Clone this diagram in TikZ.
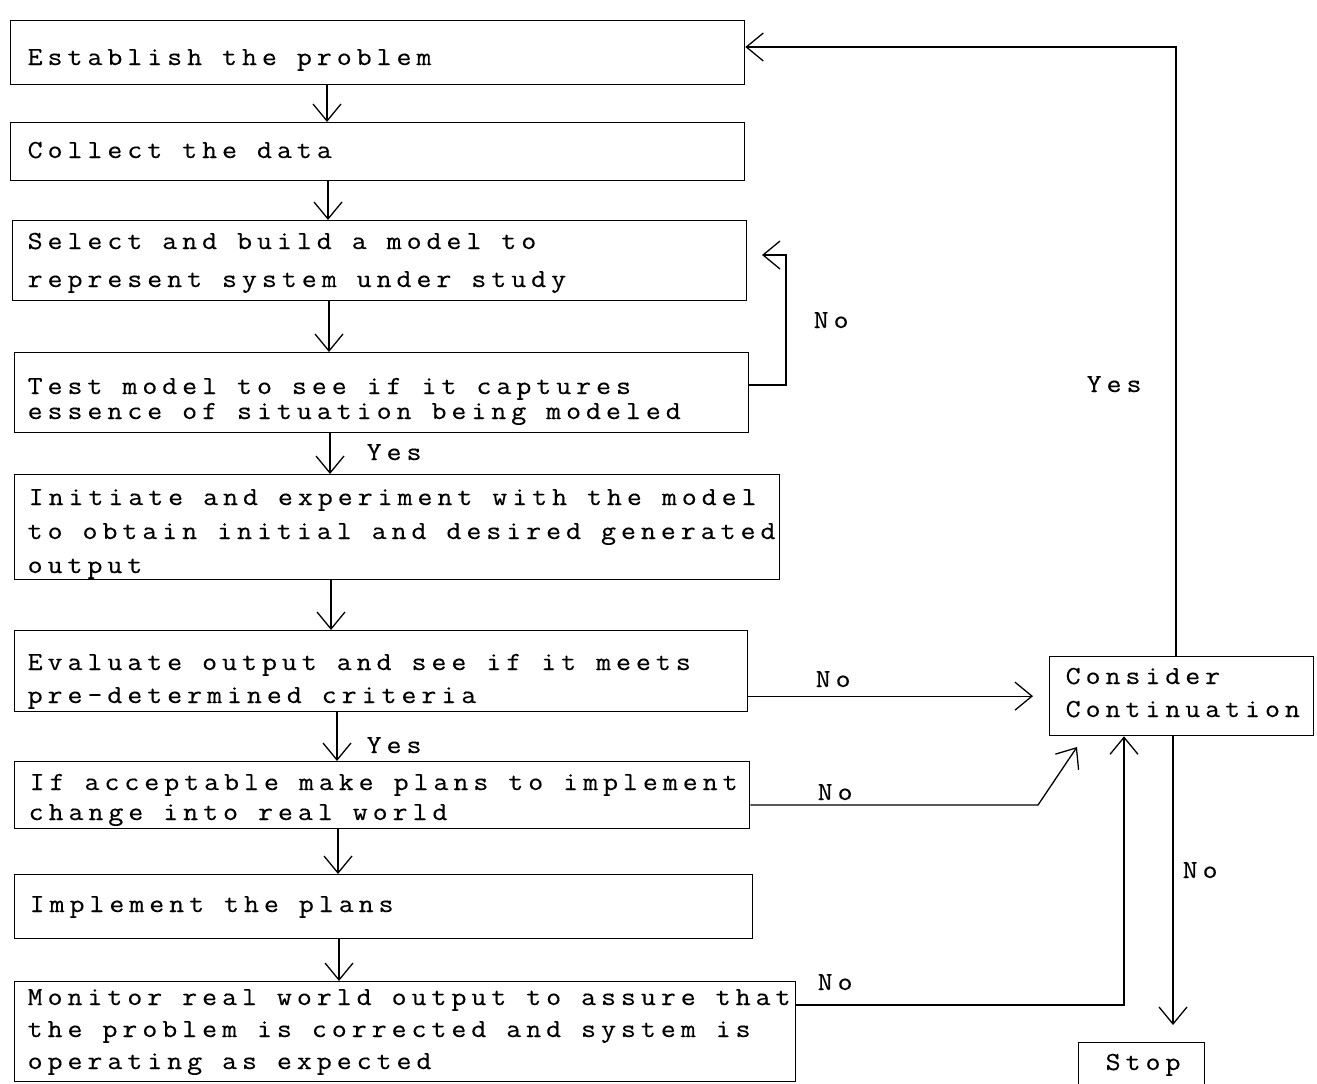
\documentclass[tikz,border=0pt]{standalone}
\usepackage{fontspec}
\newfontfamily\tw{Latin Modern Mono}[FakeStretch=1.12, FakeBold=0.3, LetterSpace=19]
\usetikzlibrary{arrows.meta}
\begin{document}
\begin{tikzpicture}[x=1pt,y=-1pt,line width=1.3pt,
  box/.style={draw, rectangle, inner sep=0pt, anchor=north west},
  txt/.style={anchor=base west, inner sep=0pt, font=\tw\fontsize{26}{32}\selectfont},
  arr/.style={-{Straight Barb[length=17pt,width=28pt,line width=1.3pt]}}]
\useasboundingbox (0,0) rectangle (1317,1084);
\clip (0,0) rectangle (1317,1084);

% process boxes
\node[box, minimum width=734pt, minimum height=64pt]  (b1) at (10,20) {};
\node[box, minimum width=734pt, minimum height=58pt]  (b2) at (10,122) {};
\node[box, minimum width=734pt, minimum height=80pt]  (b3) at (12,220) {};
\node[box, minimum width=734pt, minimum height=80pt]  (b4) at (14,352) {};
\node[box, minimum width=765pt, minimum height=105pt] (b5) at (14,474) {};
\node[box, minimum width=733pt, minimum height=81pt]  (b6) at (14,630) {};
\node[box, minimum width=735pt, minimum height=67pt]  (b7) at (14,761) {};
\node[box, minimum width=738pt, minimum height=64pt]  (b8) at (14,874) {};
\node[box, minimum width=781pt, minimum height=100pt] (b9) at (14,981) {};
\node[box, minimum width=264pt, minimum height=79pt]  (cc) at (1049,656) {};
\node[box, minimum width=126pt, minimum height=60pt]  (stop) at (1078,1042) {};

% box texts
\node[txt] (t1)  at (27,65)   {Establish the problem};
\node[txt] (t2)  at (27,158)  {Collect the data};
\node[txt] (t3a) at (27,249)  {Select and build a model to};
\node[txt] (t3b) at (27,287)  {represent system under study};
\node[txt] (t4a) at (27,394)  {Test model to see if it captures};
\node[txt] (t4b) at (27,419)  {essence of situation being modeled};
\node[txt] (t5a) at (28,505)  {Initiate and experiment with the model};
\node[txt] (t5b) at (27,539)  {to obtain initial and desired generated};
\node[txt] (t5c) at (27,573)  {output};
\node[txt] (t6a) at (27,670)  {Evaluate output and see if it meets};
\node[txt] (t6b) at (27,703)  {pre-determined criteria};
\node[txt] (t7a) at (29,790)  {If acceptable make plans to implement};
\node[txt] (t7b) at (28,820)  {change into real world};
\node[txt] (t8)  at (29,912)  {Implement the plans};
\node[txt] (t9a) at (27,1005) {Monitor real world output to assure that};
\node[txt] (t9b) at (27,1037) {the problem is corrected and system is};
\node[txt] (t9c) at (27,1069) {operating as expected};
\node[txt] (tca) at (1065,684) {Consider};
\node[txt] (tcb) at (1065,717) {Continuation};
\node[txt] (ts)  at (1105,1070) {Stop};

% connector labels
\node[txt] (l1) at (813,328)  {No};
\node[txt] (l2) at (366,460)  {Yes};
\node[txt] (l3) at (815,687)  {No};
\node[txt] (l4) at (366,753)  {Yes};
\node[txt] (l5) at (817,800)  {No};
\node[txt] (l6) at (817,990)  {No};
\node[txt] (l7) at (1086,392) {Yes};
\node[txt] (l8) at (1182,878) {No};

% main downward flow
\coordinate (a1) at (327,0);
\coordinate (a2) at (328,0);
\coordinate (a3) at (329,0);
\coordinate (a4) at (330,0);
\coordinate (a5) at (331,0);
\coordinate (a6) at (337,0);
\coordinate (a7) at (338,0);
\coordinate (a8) at (339,0);
\draw[arr] (b1.south -| a1) -- (b2.north -| a1);
\draw[arr] (b2.south -| a2) -- (b3.north -| a2);
\draw[arr] (b3.south -| a3) -- (b4.north -| a3);
\draw[arr] (b4.south -| a4) -- (b5.north -| a4);
\draw[arr] (b5.south -| a5) -- (b6.north -| a5);
\draw[arr] (b6.south -| a6) -- (b7.north -| a6);
\draw[arr] (b7.south -| a7) -- (b8.north -| a7);
\draw[arr] (b8.south -| a8) -- (b9.north -| a8);

% model test loop back
\coordinate (lpR) at (786,385);
\coordinate (lpT) at (786,255);
\coordinate (lpE) at (762,255);
\draw[arr] (b4.east |- lpR) -- (lpR) -- (lpT) -- (lpE);

% branches to the continuation decision
\draw[arr, shorten >=16pt] (b6.east |- cc.west) -- (cc.west);
\coordinate (ifB) at (1038,805);
\coordinate (ifT) at (1077,747);
\draw[arr] (b7.east |- ifB) -- (ifB) -- (ifT);
\coordinate (monB) at (1124,1005);
\draw[arr] (b9.east |- monB) -- (monB) -- (cc.south -| monB);

% continuation outcomes
\coordinate (yT) at (1176,47);
\draw[arr] (cc.north -| yT) -- (yT) -- (b1.east |- yT);
\coordinate (stX) at (1173,0);
\draw[arr, shorten >=17pt] (cc.south -| stX) -- (stop.north -| stX);
\end{tikzpicture}
\end{document}
